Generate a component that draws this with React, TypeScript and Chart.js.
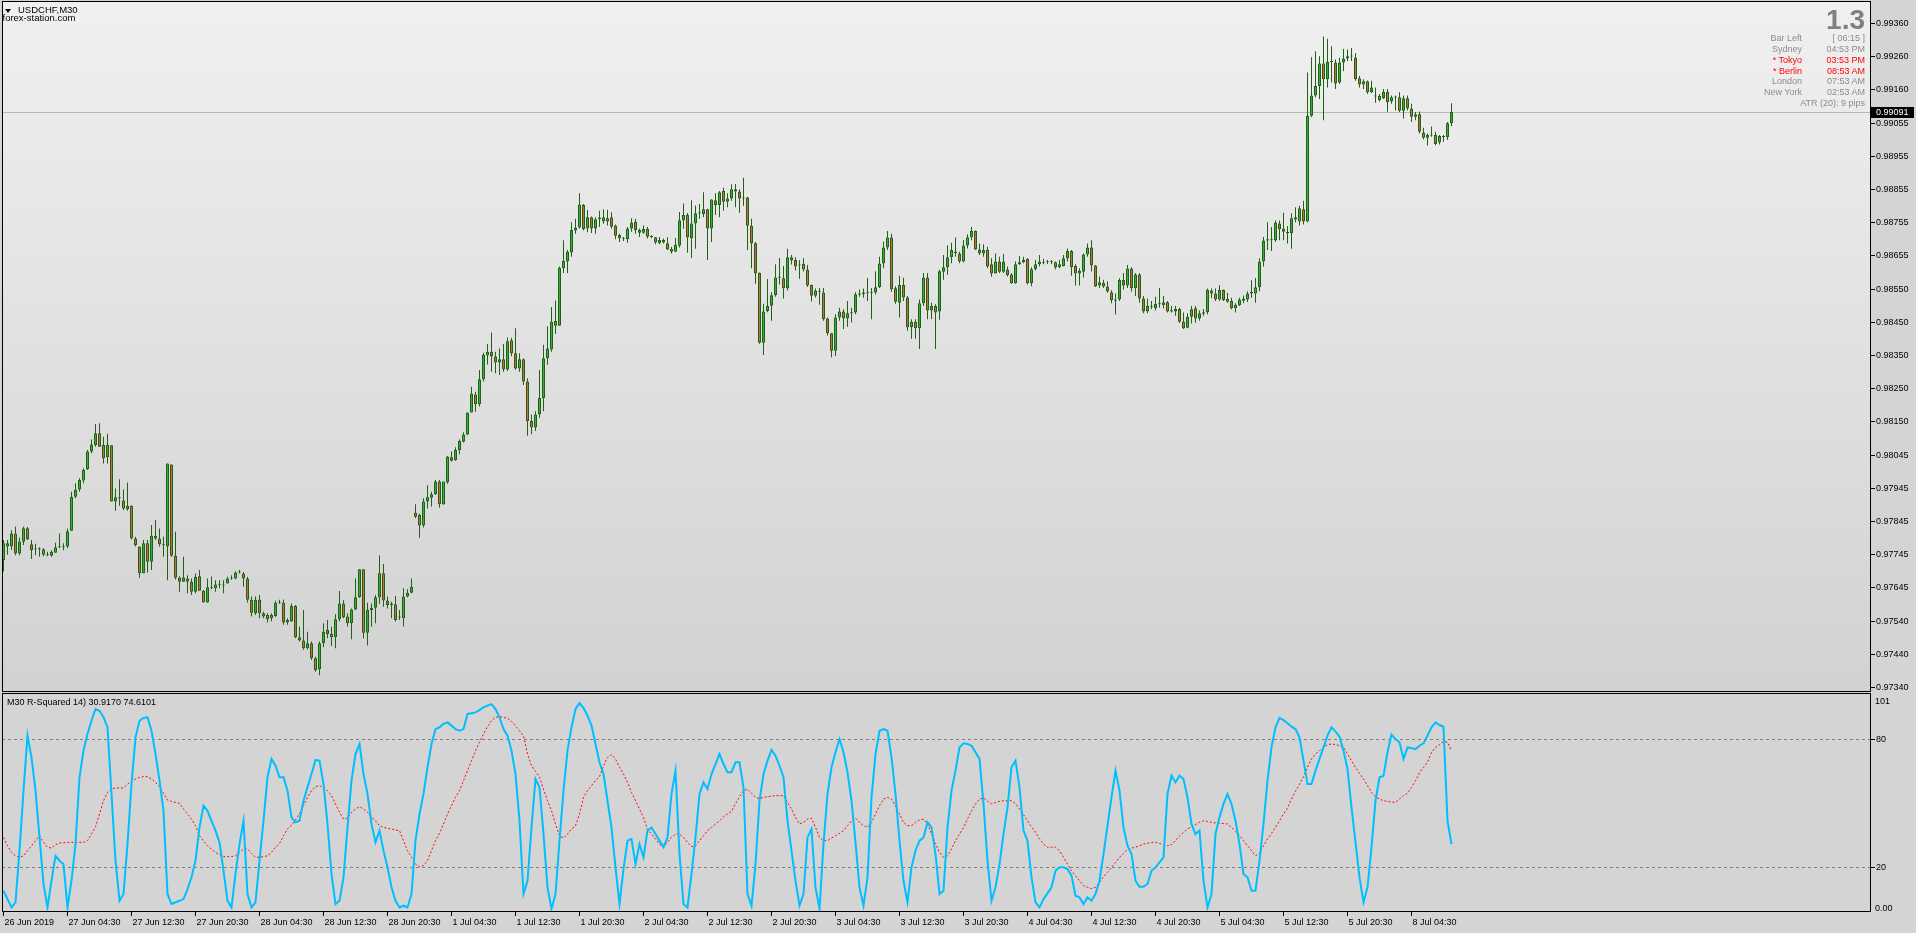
import React, { useEffect, useRef } from "react";
import { Chart, registerables } from "chart.js";

Chart.register(...registerables);

// ---------------- text ----------------
const symbolTitle = "USDCHF,M30";
const brandText = "forex-station.com";
const indicatorTitle = "M30 R-Squared 14) 30.9170 74.6101";
const bigNumber = "1.3";
const atrText = "ATR (20): 9 pips";
const infoNames = ["Bar Left", "Sydney", "* Tokyo", "* Berlin", "London", "New York"];
const infoValues = ["[ 06:15 ]", "04:53 PM", "03:53 PM", "08:53 AM", "07:53 AM", "02:53 AM"];
const infoHighlighted = [false, false, true, true, false, false];

// ---------------- price data (pips above priceBase) ----------------
const priceBase = 0.97;
const pipSize = 0.0001;
const bidPrice = 0.99091;

const opens = [
72.7,77.8,76.8,80.8,74.7,78.3,82.4,77.5,75.9,76.0,76.0,74.3,74.0,74.9,76.6,76.6,76.8,81.6,92.0,94.2,
96.9,100.3,105.7,107.7,111.3,107.7,104.0,107.6,90.5,91.5,90.8,88.2,89.2,79.3,76.8,68.7,77.8,72.2,80.1,79.3,
77.5,76.8,101.8,74.0,67.4,66.1,67.1,66.1,63.1,67.8,63.4,59.8,64.4,64.1,65.3,65.0,65.6,67.1,67.1,68.9,
68.6,67.1,60.6,56.5,60.6,55.5,56.0,55.0,55.7,59.7,59.7,53.7,54.0,58.7,49.2,48.2,45.9,47.4,42.8,39.5,
47.4,51.4,50.2,49.2,54.7,59.5,55.5,53.5,57.7,61.4,69.9,50.6,57.5,58.2,61.4,68.7,60.4,59.0,59.3,55.2,
55.0,61.6,62.8,87.1,86.4,83.2,90.5,91.7,92.7,96.6,89.7,96.3,104.0,103.1,106.2,108.7,110.9,117.6,123.1,120.1,
127.7,134.9,136.1,134.6,132.8,133.8,130.7,139.6,135.6,131.0,133.8,127.0,115.0,113.0,117.0,122.0,134.1,136.8,145.4,144.0,
161.5,163.5,166.3,173.0,173.9,180.7,173.6,177.0,173.6,176.4,175.7,176.7,177.0,174.5,171.6,170.3,170.3,173.6,175.6,172.3,
172.3,173.4,171.1,170.9,169.1,169.3,169.1,167.3,166.5,168.3,176.0,177.7,170.6,175.1,178.2,178.0,179.4,173.6,182.2,180.7,
185.0,181.7,182.7,185.5,184.8,183.0,183.0,174.4,169.1,160.1,138.8,148.5,150.1,153.3,158.6,158.4,155.4,164.8,164.0,162.6,
162.8,161.1,156.4,153.1,154.3,154.1,146.2,141.7,136.4,146.5,148.3,146.2,147.8,148.0,153.4,153.6,154.0,154.1,154.1,155.7,
162.9,167.8,170.8,155.4,151.0,156.4,152.6,143.5,145.2,143.2,150.8,158.7,148.6,150.0,148.3,160.4,161.8,164.8,166.6,166.0,
163.5,168.4,170.9,172.8,167.2,166.0,167.0,162.7,159.9,163.5,160.4,161.1,159.6,156.9,162.7,163.3,164.3,156.9,161.2,162.7,
163.0,163.3,163.3,163.3,161.8,162.2,164.5,166.7,162.2,159.9,160.4,165.7,167.8,162.3,156.2,157.0,155.9,154.2,152.0,152.0,
156.2,156.2,161.4,155.4,159.6,152.3,148.3,149.8,149.3,150.5,150.3,151.1,148.7,148.3,149.1,145.2,143.4,146.7,149.3,146.2,
147.6,148.1,154.7,153.8,152.0,154.9,152.2,151.5,149.3,150.3,151.6,152.0,153.8,153.8,155.7,163.5,169.9,170.0,170.0,175.1,
173.6,172.6,172.1,176.3,175.7,179.4,175.7,207.9,214.0,216.9,223.8,219.0,224.3,224.1,218.0,224.1,225.3,225.9,225.6,219.3,
217.4,218.4,215.0,213.9,212.7,213.2,215.2,212.2,213.4,213.5,209.4,213.2,210.1,207.6,208.3,202.8,201.2,202.0,202.0,199.7,
201.4,201.3,205.6
];
const highs = [
78.8,78.8,81.8,82.9,79.6,82.9,82.8,78.8,77.7,76.6,76.3,75.2,75.7,78.0,80.8,77.8,82.3,93.5,96.1,97.6,
100.6,106.2,109.4,114.1,114.3,110.2,111.1,107.6,94.5,97.3,94.2,96.3,89.4,79.8,76.8,78.8,78.8,83.4,84.9,82.3,
79.8,102.1,101.8,81.3,67.8,73.7,68.1,67.1,68.6,69.7,63.6,67.1,67.7,66.6,66.6,66.6,67.6,68.1,69.3,69.7,
69.1,67.6,61.6,61.6,62.1,57.0,56.5,56.5,60.3,60.6,60.7,55.0,59.5,59.0,52.4,57.5,50.9,47.9,43.3,47.9,
53.5,54.5,52.4,56.2,63.3,60.5,56.5,58.0,67.1,69.9,69.9,59.7,59.5,62.1,74.2,71.5,61.6,60.0,61.8,57.5,
64.1,63.8,67.1,89.7,86.9,91.5,95.5,93.5,97.1,97.1,96.6,104.4,105.7,107.0,109.4,111.6,117.6,125.4,123.9,130.5,
135.8,138.4,141.9,136.1,137.1,138.4,140.4,140.3,143.2,135.6,134.0,128.0,117.0,118.0,130.5,138.2,143.8,149.7,151.7,162.0,
170.0,167.0,175.5,176.5,184.3,181.0,179.2,177.2,177.0,179.0,179.4,179.3,178.5,174.8,172.0,171.0,174.0,176.7,176.5,173.6,
174.5,174.0,171.5,171.0,171.0,170.5,170.9,168.0,170.7,178.6,181.2,178.3,182.2,180.6,181.0,184.6,179.6,182.5,184.3,185.0,
186.0,184.3,187.0,187.1,185.5,189.0,183.2,176.5,169.5,160.2,150.7,158.2,154.2,162.7,164.6,162.2,167.4,165.5,164.8,164.0,
164.5,162.5,156.5,155.3,155.5,155.5,146.5,141.8,147.5,149.5,149.0,151.5,149.5,154.2,155.0,155.3,158.5,155.5,160.6,165.0,
169.6,172.8,172.0,156.0,159.2,158.6,153.0,146.0,146.0,152.0,160.0,160.0,151.0,150.5,161.0,165.5,168.5,169.2,170.8,166.5,
170.1,171.8,174.0,173.0,169.0,168.8,168.0,164.5,166.0,165.0,165.8,162.0,160.0,163.5,165.2,165.0,164.5,161.8,164.0,165.5,
164.4,164.0,164.0,163.5,164.0,165.5,167.5,167.0,162.7,161.5,166.0,169.0,170.0,162.5,159.0,158.0,157.5,154.8,153.8,158.4,
160.0,162.5,161.8,160.0,160.0,153.0,152.3,151.5,152.8,155.5,153.0,151.5,150.0,150.0,149.5,148.0,147.8,150.0,150.0,148.6,
149.0,155.3,155.3,155.3,156.3,155.0,154.0,152.5,150.8,152.5,153.2,154.5,157.8,158.5,164.5,171.0,175.5,174.0,176.0,176.0,
178.4,174.3,178.2,180.0,180.5,182.0,221.0,225.7,227.5,226.0,232.0,231.3,229.0,225.0,225.5,228.2,228.0,228.5,226.9,220.0,
219.0,218.6,218.5,216.5,214.5,216.0,216.0,214.0,214.0,215.0,214.0,214.0,211.5,209.0,209.2,204.2,202.5,204.6,203.0,202.0,
202.0,206.0,211.7
];
const lows = [
69.2,74.3,75.8,74.2,74.2,77.3,78.8,73.0,74.2,73.7,73.9,73.9,73.7,74.9,76.3,75.7,76.3,81.6,91.5,93.5,
96.1,100.1,105.2,107.2,107.2,102.1,102.1,90.5,87.7,89.2,87.9,87.7,79.0,76.8,67.3,68.7,68.9,69.7,78.8,76.8,
73.7,66.6,73.7,66.8,63.1,66.1,62.6,62.1,62.6,63.4,59.8,59.7,63.8,63.1,64.1,62.6,65.6,66.7,66.9,68.6,
64.6,59.8,55.5,56.0,55.0,55.0,53.7,54.1,55.3,59.4,53.0,53.0,54.0,48.9,47.9,45.4,45.6,42.3,38.7,37.7,
46.2,48.9,46.6,45.9,54.0,55.0,52.5,48.6,57.5,61.2,48.9,46.7,52.4,53.5,59.4,58.5,58.0,55.0,54.0,54.5,
52.5,61.4,62.6,85.4,79.5,82.6,88.4,89.0,92.5,88.6,89.5,95.9,102.6,102.9,104.9,108.5,110.7,117.6,117.8,119.4,
127.0,132.2,130.0,129.5,129.0,130.0,130.2,134.7,130.6,130.0,126.0,110.5,111.0,112.0,116.0,118.0,132.1,136.1,141.5,144.0,
160.0,160.0,165.0,172.0,173.6,173.0,172.4,172.2,172.0,174.0,175.0,174.5,173.5,170.3,169.5,169.8,169.2,172.6,172.0,171.0,
172.0,170.5,170.6,168.8,168.8,169.0,167.0,166.0,166.5,167.8,173.5,166.2,164.6,167.4,176.5,177.0,164.0,169.5,177.7,177.0,
179.0,180.0,182.0,180.0,178.4,180.5,167.0,161.5,156.8,138.5,135.1,148.1,145.5,152.8,156.5,152.3,154.7,162.6,160.8,158.3,
160.5,155.8,151.4,152.6,150.4,145.5,141.0,134.3,134.8,145.5,143.0,143.7,145.0,147.5,152.8,152.5,151.5,146.0,153.5,155.5,
161.5,167.0,154.3,150.7,146.5,151.5,142.5,140.0,140.0,136.9,150.0,146.0,146.0,136.9,145.8,158.0,159.5,163.0,165.0,163.0,
163.3,167.5,170.0,167.0,165.5,165.0,161.5,158.9,159.9,160.0,160.0,159.0,156.8,156.8,162.5,163.0,156.5,156.0,160.8,162.0,
162.7,162.8,162.8,161.2,161.5,162.0,163.5,159.2,156.2,156.2,158.7,165.0,160.5,155.8,155.5,155.5,154.0,150.8,147.4,151.5,
155.0,155.5,154.4,153.0,151.0,147.8,147.8,149.0,148.6,149.5,149.2,148.0,148.0,147.0,144.8,143.0,143.2,144.7,144.9,145.5,
147.0,147.5,152.4,151.5,151.5,151.5,151.0,149.0,148.0,150.0,150.8,151.2,152.5,151.0,154.5,162.0,167.0,166.7,169.5,170.0,
170.0,169.0,167.4,175.5,174.5,174.8,175.5,207.5,213.5,213.0,206.5,216.5,218.0,216.0,217.5,221.5,224.5,224.5,218.5,216.5,
216.0,214.5,214.8,211.8,212.2,213.0,209.1,211.5,209.5,209.0,207.0,209.5,206.0,206.5,202.5,200.7,198.8,201.5,198.9,199.1,
200.0,200.5,204.7
];
const closes = [
77.8,76.8,80.8,74.7,78.3,82.4,79.0,75.8,76.0,76.0,74.3,74.2,75.2,76.6,76.6,76.8,81.5,92.0,94.2,97.1,
100.1,105.7,107.9,111.3,107.2,103.7,107.9,90.5,91.8,91.5,88.4,89.2,79.3,77.3,68.7,77.8,72.2,80.1,79.3,77.5,
77.2,102.1,74.0,67.3,66.1,67.4,66.1,63.1,67.6,63.4,59.8,64.4,64.1,65.3,65.2,65.3,67.1,67.4,68.9,69.0,
67.1,60.6,56.7,60.6,56.5,56.5,54.7,56.0,59.7,59.8,53.7,54.5,58.7,49.2,48.2,45.9,47.4,42.8,39.3,47.4,
50.9,50.2,49.2,54.7,59.5,55.3,53.5,57.7,61.4,69.9,50.6,57.5,58.2,61.4,68.7,60.4,59.0,59.5,54.5,55.3,
61.6,62.8,64.6,85.9,83.2,90.5,91.8,92.7,96.6,89.7,96.6,104.2,102.9,106.2,108.9,110.9,117.6,123.4,120.1,127.7,
135.1,136.1,134.6,132.8,133.8,130.7,139.3,135.6,131.0,133.8,127.0,115.0,113.0,117.0,122.0,134.1,137.1,145.2,144.0,161.6,
163.7,166.5,173.1,173.9,180.9,173.4,177.0,173.6,176.4,176.9,177.0,175.7,174.1,171.4,170.6,170.3,173.6,175.4,173.1,173.1,
173.4,171.1,171.0,169.3,170.1,170.1,167.2,166.5,168.6,176.1,177.7,170.8,175.1,178.2,178.4,179.4,173.6,182.4,180.7,184.6,
181.7,182.7,185.5,184.8,182.7,182.7,174.4,169.0,159.9,138.8,148.3,150.0,153.3,158.7,158.7,155.4,164.8,163.8,162.0,162.3,
161.1,156.2,153.1,154.7,154.4,146.0,141.7,136.4,146.5,148.3,146.2,147.8,148.0,153.6,153.8,154.1,154.1,154.0,155.7,162.9,
167.8,170.8,155.1,151.3,156.4,152.6,143.5,145.2,143.2,150.8,158.7,148.6,150.0,148.0,160.6,161.8,164.8,167.0,166.1,163.5,
168.4,170.9,172.8,167.2,166.0,167.0,162.0,159.9,163.5,160.4,163.5,159.4,156.9,162.7,163.3,164.0,156.9,161.2,162.7,163.5,
163.3,163.3,163.3,161.7,162.7,164.5,166.7,161.8,159.9,160.7,165.7,167.8,162.3,155.9,157.2,155.9,154.4,151.8,151.6,157.9,
157.9,161.4,155.4,159.6,152.3,148.3,150.0,150.1,150.6,150.8,151.1,148.3,148.3,149.1,145.2,143.2,146.7,149.0,146.2,147.8,
148.1,154.9,153.8,152.0,154.9,151.8,151.3,149.3,150.3,152.0,152.3,153.8,154.3,155.7,163.5,169.9,170.3,170.3,175.4,173.4,
172.6,172.1,176.7,177.0,179.7,175.7,207.9,214.0,216.9,223.8,219.0,224.3,224.2,217.7,224.1,225.3,226.0,226.0,219.0,217.4,
218.4,215.0,216.5,213.7,213.9,215.2,212.0,213.5,213.5,209.4,213.2,210.1,207.6,208.3,203.0,201.2,202.0,201.9,199.3,201.7,
201.7,205.6,209.1
];

// ---------------- R-squared indicator ----------------
const rSquared = [
9.0,5.1,1.2,3.6,27.8,55.9,81.7,71.5,55.9,34.0,12.2,1.2,13.7,25.4,23.1,21.5,1.2,13.7,30.9,62.2,
74.7,82.5,88.7,94.2,93.4,90.3,85.6,54.4,23.1,4.3,7.5,30.9,59.0,80.9,88.7,90.0,90.3,84.0,73.1,60.6,
46.5,7.5,2.8,3.6,4.3,5.1,9.8,15.3,23.1,38.7,48.9,46.5,41.8,37.2,31.7,18.4,4.3,1.2,16.9,30.9,
41.8,7.5,1.2,3.6,23.1,41.8,62.2,70.8,67.6,62.2,62.2,55.9,43.4,41.1,41.8,51.2,57.5,63.7,70.3,70.0,
59.0,40.3,16.9,2.8,4.3,15.3,38.7,60.6,73.1,77.8,63.7,54.4,40.3,31.7,37.2,27.8,20.0,10.6,4.3,1.2,
2.0,1.2,7.5,32.5,45.0,54.4,66.9,77.8,84.8,85.6,87.2,87.9,86.4,84.8,84.0,84.8,91.9,92.2,92.6,93.7,
95.0,95.8,96.5,94.2,90.3,84.8,81.7,74.7,63.7,41.8,7.5,13.7,38.7,61.4,57.5,35.6,10.6,0.5,7.5,32.5,
55.9,74.7,85.6,94.2,96.9,94.7,91.1,86.4,77.8,69.2,63.7,51.2,38.7,20.0,2.8,19.2,32.5,33.3,21.5,30.9,
24.7,37.2,38.7,35.6,32.5,29.4,34.0,54.4,65.3,26.2,2.8,1.2,16.9,34.0,54.4,59.8,56.7,63.7,68.4,73.1,
68.4,64.5,64.5,69.2,69.2,57.5,7.5,2.0,21.5,51.2,63.7,70.0,75.0,72.3,67.6,62.2,41.8,27.8,13.7,2.0,
7.5,34.0,37.9,10.6,0.5,30.9,54.4,66.9,73.9,80.1,73.9,64.5,51.2,31.7,10.6,2.0,15.3,52.8,73.1,84.0,
84.8,84.0,71.5,54.4,32.5,13.7,3.6,20.0,27.8,32.5,34.0,41.1,38.7,26.2,7.5,9.0,38.7,55.9,65.3,76.2,
78.1,77.8,77.0,73.9,70.8,49.7,23.1,4.3,10.6,21.5,35.6,48.1,66.9,70.0,57.5,37.2,32.5,15.3,3.6,1.2,
5.1,7.8,10.6,18.4,20.0,20.0,19.2,16.1,6.7,5.9,2.8,5.9,4.3,7.5,13.7,26.2,39.5,52.8,65.3,55.9,
38.7,30.1,26.2,13.7,10.9,10.9,12.2,18.4,20.0,22.3,24.7,54.4,63.0,59.8,63.0,61.4,52.8,40.3,35.6,37.2,
13.7,1.2,7.5,35.6,43.4,49.7,54.4,49.7,41.8,30.9,16.9,15.3,9.0,9.0,23.1,40.3,60.6,76.2,85.6,90.0,
89.0,87.5,85.9,84.8,80.9,70.0,59.0,59.0,65.3,70.8,76.2,81.7,85.6,83.7,81.2,74.7,66.1,48.1,31.7,15.3,
3.6,10.6,29.4,51.2,62.2,62.8,73.9,82.2,80.1,78.6,70.8,76.2,75.9,75.4,77.0,78.1,81.7,85.6,87.9,86.7,
85.9,41.8,30.9
];
const rSquaredSignal = [
34.0,30.1,27.0,25.4,24.7,25.4,27.8,30.1,32.5,34.8,31.7,29.4,29.0,30.6,31.4,31.5,31.7,31.7,31.7,31.7,
31.7,32.5,35.6,39.0,45.0,51.2,55.1,56.7,57.2,57.2,57.2,59.0,60.3,61.4,62.2,62.5,62.5,61.4,59.8,57.8,
54.7,51.5,50.9,50.4,50.0,47.3,45.0,42.6,39.5,34.8,32.5,30.1,28.6,27.0,25.9,25.0,25.0,25.0,25.4,27.0,
28.6,28.6,26.5,24.7,24.7,25.0,25.4,27.0,29.4,31.2,34.8,38.0,39.8,42.2,45.0,48.9,52.8,55.9,57.8,58.3,
57.2,55.9,53.6,49.7,45.8,42.6,43.1,45.8,47.3,48.4,47.3,45.8,43.4,41.8,39.5,38.7,38.3,37.9,37.5,37.2,
32.5,27.8,24.7,21.5,20.3,20.8,23.1,27.8,32.5,35.9,40.3,45.0,48.9,52.8,55.9,60.6,65.3,70.0,74.7,78.6,
82.5,85.9,88.7,90.3,90.6,90.3,89.8,88.4,86.4,84.0,81.7,73.1,67.6,65.0,62.2,56.7,51.2,46.5,40.3,34.8,
33.7,35.6,37.9,39.5,45.0,52.8,55.9,58.3,60.6,62.5,67.6,71.5,72.8,70.8,66.9,63.7,59.8,55.1,51.2,47.3,
43.4,37.9,35.6,33.3,30.9,29.4,31.7,34.0,35.6,35.6,34.0,31.7,29.7,30.1,32.5,34.8,37.2,38.7,40.3,41.8,
43.7,45.0,46.2,49.7,53.1,55.9,56.7,54.7,52.8,52.2,52.8,53.1,53.4,53.6,53.6,53.6,50.4,47.3,43.4,40.3,
41.1,42.6,43.1,38.7,34.0,32.5,32.5,33.7,34.8,35.9,37.2,39.5,41.8,43.1,41.1,39.5,38.7,41.1,45.0,48.9,
52.0,52.8,52.0,48.9,45.0,41.1,39.5,39.5,41.1,42.2,42.6,40.3,35.6,30.9,27.0,24.7,25.4,28.6,32.5,35.6,
38.7,42.6,46.5,49.7,52.0,52.5,50.9,49.7,50.4,50.9,51.2,51.2,51.2,49.9,47.3,44.7,41.8,39.0,36.4,33.3,
30.9,29.4,29.4,29.4,27.8,24.7,21.5,18.4,16.1,13.7,11.4,10.6,10.0,10.6,12.9,15.6,17.6,20.0,22.3,24.7,
26.5,28.4,29.0,29.4,30.1,30.9,31.2,31.7,31.7,31.2,30.6,30.1,30.6,32.5,34.8,36.4,38.0,39.0,40.0,41.1,
41.8,41.5,41.1,40.8,40.6,40.5,40.3,38.7,36.9,34.8,32.5,30.1,27.8,25.4,26.5,30.1,33.3,35.9,38.7,41.8,
45.0,47.8,52.0,55.6,59.0,62.5,66.9,70.8,73.1,74.7,76.2,77.5,77.8,77.5,77.0,76.2,73.1,70.0,66.9,64.0,
61.4,58.3,55.1,53.1,52.0,51.2,50.9,50.6,50.4,52.0,53.6,54.7,57.5,60.6,64.2,66.9,69.2,73.9,76.2,77.5,
79.0,78.6,74.6
];

// ---------------- axes ----------------
const priceTicks = [
0.9936,0.9926,0.9916,0.99055,0.98955,0.98855,0.98755,0.98655,0.9855,0.9845,0.9835,
0.9825,0.9815,0.98045,0.97945,0.97845,0.97745,0.97645,0.9754,0.9744,0.9734
];
const timeLabels = [
"26 Jun 2019","27 Jun 04:30","27 Jun 12:30","27 Jun 20:30","28 Jun 04:30","28 Jun 12:30",
"28 Jun 20:30","1 Jul 04:30","1 Jul 12:30","1 Jul 20:30","2 Jul 04:30","2 Jul 12:30",
"2 Jul 20:30","3 Jul 04:30","3 Jul 12:30","3 Jul 20:30","4 Jul 04:30","4 Jul 12:30",
"4 Jul 20:30","5 Jul 04:30","5 Jul 12:30","5 Jul 20:30","8 Jul 04:30"
];
const barsPerTimeLabel = 16;
const levelTicks = [80, 20];
const levelMaxLabel = "101";
const levelMinLabel = "0.00";

// ---------------- layout / style ----------------
const W = 1916;
const H = 933;
const AXIS_W = 45;
const MAIN_H = 693;
const SUB_TOP = 693;
const SUB_H = 240;
const X_AXIS_H = 21;
const X_MIN = -0.375;
const X_MAX = 466.875;
const MAIN_Y_MIN = 0.973257;
const MAIN_Y_MAX = 0.994278;
const SUB_Y_MIN = -0.95;
const SUB_Y_MAX = 101.7;
const FONT = '"Liberation Sans", Arial, sans-serif';
const PAGE_BG = "#d4d4d4";
const OUTLINE = "#22601a";
const BULL = "#37b037";
const BEAR = "#cc6a3c";

const toPrice = (p: number) => +(priceBase + p * pipSize).toFixed(5);

const framePlugin = {
  id: "frame",
  afterDraw(chart: any) {
    const { ctx, chartArea: a } = chart;
    ctx.save();
    ctx.strokeStyle = "#000";
    ctx.lineWidth = 1;
    ctx.strokeRect(a.left + 0.5, a.top + 0.5, a.right - a.left - 1, a.bottom - a.top - 1);
    ctx.restore();
  },
};

const mainBgPlugin = {
  id: "mainBg",
  beforeDraw(chart: any) {
    const { ctx, chartArea: a } = chart;
    const g = ctx.createLinearGradient(0, a.top, 0, a.bottom);
    g.addColorStop(0, "#f0f0f0");
    g.addColorStop(1, "#d2d2d2");
    ctx.save();
    ctx.fillStyle = g;
    ctx.fillRect(a.left, a.top, a.right - a.left, a.bottom - a.top);
    ctx.restore();
  },
  beforeDatasetsDraw(chart: any) {
    const { ctx, chartArea: a } = chart;
    const y = Math.round(chart.scales.y.getPixelForValue(bidPrice)) + 0.5;
    ctx.save();
    ctx.strokeStyle = "#b8b8b8";
    ctx.lineWidth = 1;
    ctx.beginPath();
    ctx.moveTo(a.left, y);
    ctx.lineTo(a.right, y);
    ctx.stroke();
    ctx.restore();
  },
  afterDraw(chart: any) {
    const { ctx, chartArea: a } = chart;
    const y = Math.round(chart.scales.y.getPixelForValue(bidPrice));
    ctx.save();
    ctx.fillStyle = "#000";
    ctx.fillRect(a.right, y - 5, 43, 11);
    ctx.fillStyle = "#fff";
    ctx.font = `9px ${FONT}`;
    ctx.textBaseline = "middle";
    ctx.textAlign = "left";
    ctx.fillText(bidPrice.toFixed(5), a.right + 5, y + 0.5);
    ctx.restore();
  },
};

function Label(props: { x: number; base: number; size: number; text: string; color?: string; align?: string; bold?: boolean }) {
  const { x, base, size, text, color = "#000", align = "left", bold = false } = props;
  const style: any = {
    position: "absolute",
    top: base - 0.8465 * size,
    fontFamily: FONT,
    fontSize: size,
    lineHeight: `${size}px`,
    color,
    whiteSpace: "pre",
    fontWeight: bold ? "bold" : "normal",
  };
  if (align === "right") style.right = W - x;
  else style.left = x;
  return <div style={style}>{text}</div>;
}

export default function App() {
  const mainRef = useRef<HTMLCanvasElement>(null);
  const subRef = useRef<HTMLCanvasElement>(null);

  useEffect(() => {
    Chart.defaults.font.family = FONT;
    const idx = closes.map((_, i) => i);
    const bodyData = idx.map((i) => ({ x: i, y: [toPrice(opens[i]), toPrice(closes[i])] }));
    const wickData = idx.map((i) => ({ x: i, y: [toPrice(lows[i]), toPrice(highs[i])] }));

    const main = new Chart(mainRef.current as HTMLCanvasElement, {
      type: "bar",
      data: {
        datasets: [
          {
            label: "wick",
            data: wickData as any,
            backgroundColor: OUTLINE,
            borderWidth: 0,
            barThickness: 1,
            grouped: false,
            inflateAmount: 0,
            order: 1,
          } as any,
          {
            label: "body",
            data: bodyData as any,
            backgroundColor: (c: any) => {
              const i = c.dataIndex;
              if (i === undefined) return BULL;
              return closes[i] >= opens[i] ? BULL : BEAR;
            },
            borderColor: OUTLINE,
            borderWidth: 1,
            borderSkipped: false,
            barThickness: 3,
            minBarLength: 1,
            grouped: false,
            inflateAmount: 0,
            order: 0,
          } as any,
        ],
      },
      options: {
        animation: false,
        responsive: false,
        maintainAspectRatio: false,
        devicePixelRatio: 1,
        events: [],
        layout: { autoPadding: false, padding: { left: 2, top: 1, right: 0, bottom: 1 } } as any,
        plugins: { legend: { display: false }, tooltip: { enabled: false } },
        scales: {
          x: { type: "linear", min: X_MIN, max: X_MAX, display: false, offset: false },
          y: {
            type: "linear",
            position: "right",
            min: MAIN_Y_MIN,
            max: MAIN_Y_MAX,
            afterBuildTicks: (s: any) => {
              s.ticks = priceTicks.map((v) => ({ value: v }));
            },
            afterFit: (s: any) => {
              s.width = AXIS_W;
              s.paddingTop = 0;
              s.paddingBottom = 0;
            },
            ticks: {
              autoSkip: false,
              callback: (v: any) => Number(v).toFixed(5),
              font: { family: FONT, size: 9 },
              color: "#000",
              padding: 1,
            },
            grid: { drawOnChartArea: false, drawTicks: true, tickLength: 4, tickColor: "#000" },
            border: { display: false },
          } as any,
        },
      },
      plugins: [mainBgPlugin, framePlugin],
    });

    const sub = new Chart(subRef.current as HTMLCanvasElement, {
      type: "line",
      data: {
        datasets: [
          {
            label: "R-Squared",
            data: idx.map((i) => ({ x: i, y: rSquared[i] })),
            borderColor: "#00bfff",
            borderWidth: 2,
            pointRadius: 0,
            tension: 0,
            order: 0,
          },
          {
            label: "Signal",
            data: idx.map((i) => ({ x: i, y: rSquaredSignal[i] })),
            borderColor: "#ff0000",
            borderWidth: 1,
            borderDash: [2, 2],
            pointRadius: 0,
            tension: 0,
            order: 1,
          },
        ],
      },
      options: {
        animation: false,
        responsive: false,
        maintainAspectRatio: false,
        devicePixelRatio: 1,
        events: [],
        layout: { autoPadding: false, padding: { left: 2, top: 0, right: 0, bottom: 0 } } as any,
        plugins: { legend: { display: false }, tooltip: { enabled: false } },
        scales: {
          x: {
            type: "linear",
            position: "bottom",
            min: X_MIN,
            max: X_MAX,
            offset: false,
            afterBuildTicks: (s: any) => {
              s.ticks = timeLabels.map((_, k) => ({ value: k * barsPerTimeLabel }));
            },
            afterFit: (s: any) => {
              s.height = X_AXIS_H;
              s.paddingLeft = 0;
              s.paddingRight = 0;
            },
            ticks: {
              autoSkip: false,
              maxRotation: 0,
              minRotation: 0,
              align: "start",
              labelOffset: 1,
              padding: 1,
              callback: (_v: any, k: number) => timeLabels[k],
              font: { family: FONT, size: 9 },
              color: "#000",
            },
            grid: { drawOnChartArea: false, drawTicks: true, tickLength: 4, tickColor: "#000" },
            border: { display: false },
          } as any,
          y: {
            type: "linear",
            position: "right",
            min: SUB_Y_MIN,
            max: SUB_Y_MAX,
            afterBuildTicks: (s: any) => {
              s.ticks = levelTicks.map((v) => ({ value: v }));
            },
            afterFit: (s: any) => {
              s.width = AXIS_W;
              s.paddingTop = 0;
              s.paddingBottom = 0;
            },
            ticks: {
              autoSkip: false,
              callback: (v: any) => String(v),
              font: { family: FONT, size: 9 },
              color: "#000",
              padding: 1,
            },
            grid: { drawOnChartArea: true, color: "#808080", drawTicks: true, tickLength: 4, tickColor: "#000" },
            border: { display: false, dash: [3, 3] },
          } as any,
        },
      },
      plugins: [framePlugin],
    });

    return () => {
      main.destroy();
      sub.destroy();
    };
  }, []);

  const rowBase = [41.5, 52.4, 63.3, 74.2, 85.1, 96.0];
  const gray = "#8c8c8c";
  return (
    <div style={{ position: "fixed", left: 0, top: 0, width: W, height: H, background: PAGE_BG, overflow: "hidden" }}>
      <canvas ref={mainRef} width={W} height={MAIN_H} style={{ position: "absolute", left: 0, top: 0, width: W, height: MAIN_H }} />
      <canvas ref={subRef} width={W} height={SUB_H} style={{ position: "absolute", left: 0, top: SUB_TOP, width: W, height: SUB_H }} />
      <div
        style={{
          position: "absolute",
          left: 5,
          top: 9,
          width: 0,
          height: 0,
          borderLeft: "3.5px solid transparent",
          borderRight: "3.5px solid transparent",
          borderTop: "4px solid #000",
        }}
      />
      <Label x={18} base={13.5} size={9.5} text={symbolTitle} />
      <Label x={2.5} base={21} size={9.5} text={brandText} />
      <Label x={1865} base={29.3} size={28} text={bigNumber} color="#808080" align="right" bold />
      {infoNames.map((n, k) => (
        <Label key={"n" + k} x={1802} base={rowBase[k]} size={9} text={n} color={infoHighlighted[k] ? "#ff0000" : gray} align="right" />
      ))}
      {infoValues.map((v, k) => (
        <Label key={"v" + k} x={1865} base={rowBase[k]} size={9} text={v} color={infoHighlighted[k] ? "#ff0000" : gray} align="right" />
      ))}
      <Label x={1865} base={106.9} size={9} text={atrText} color={gray} align="right" />
      <Label x={7} base={706} size={9} text={indicatorTitle} />
      <Label x={1875} base={704.5} size={9} text={levelMaxLabel} />
      <Label x={1875} base={912} size={9} text={levelMinLabel} />
    </div>
  );
}
